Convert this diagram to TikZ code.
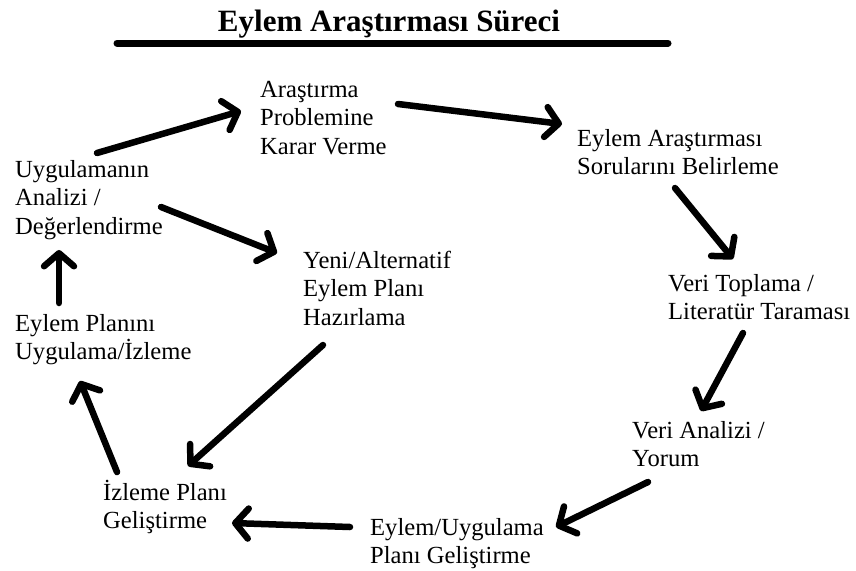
\documentclass[tikz,border=0pt]{standalone}
\usepackage{fontspec}
\setmainfont{Liberation Serif}
\usetikzlibrary{arrows.meta}
\tikzset{
  lbl/.style={anchor=north west, inner sep=0pt, align=left, text=black,
    font=\fontsize{24.6}{28.5}\selectfont},
  flow/.style={line width=6.5pt, line cap=round, line join=round,
    -{Straight Barb[round, length=13pt, width=30pt]}},
}
\newcommand{\fl}{\rule{0pt}{22pt}}
\begin{document}
\begin{tikzpicture}[x=1pt,y=-1pt]
\useasboundingbox (0,0) rectangle (856,570);
% title
\node[inner sep=0pt, anchor=base, font=\fontsize{31}{35}\selectfont\bfseries] (title) at (389,31) {Eylem Araştırması Süreci};
\coordinate (tl) at (117,43);
\coordinate (tr) at (668,43);
\draw[line width=7pt, line cap=round] (tl) -- (tr);
% labels (top = first baseline - 22)
\node[lbl] (n1) at (260,75) {\fl Araştırma\\Problemine\\Karar Verme};
\node[lbl] (n2) at (577,124) {\fl Eylem Araştırması\\Sorularını Belirleme};
\node[lbl] (n3) at (668,269) {\fl Veri Toplama /\\Literatür Taraması};
\node[lbl] (n4) at (632,416) {\fl Veri Analizi /\\Yorum};
\node[lbl] (n5) at (370,513) {\fl Eylem/Uygulama\\Planı Geliştirme};
\node[lbl] (n6) at (103,478) {\fl İzleme Planı\\Geliştirme};
\node[lbl] (n7) at (15,309) {\fl Eylem Planını\\Uygulama/İzleme};
\node[lbl] (n8) at (15,155) {\fl Uygulamanın\\Analizi /\\Değerlendirme};
\node[lbl] (n9) at (303,246) {\fl Yeni/Alternatif\\Eylem Planı\\Hazırlama};
% arrow end points
\coordinate (a1s) at (97,153);  \coordinate (a1e) at (241,111);
\coordinate (a2s) at (398,104); \coordinate (a2e) at (562,124);
\coordinate (a3s) at (675,188); \coordinate (a3e) at (733,259);
\coordinate (a4s) at (743,333); \coordinate (a4e) at (701,411);
\coordinate (a5s) at (648,482); \coordinate (a5e) at (556,527);
\coordinate (a6s) at (350,527); \coordinate (a6e) at (232,523);
\coordinate (a7s) at (117,472); \coordinate (a7e) at (80,381);
\coordinate (a8s) at (59,303);  \coordinate (a8e) at (59,250);
\coordinate (a9s) at (161,207); \coordinate (a9e) at (277,253);
\coordinate (a10s) at (323,345); \coordinate (a10e) at (188,466);
\draw[flow] (a1s) -- (a1e);
\draw[flow] (a2s) -- (a2e);
\draw[flow] (a3s) -- (a3e);
\draw[flow] (a4s) -- (a4e);
\draw[flow] (a5s) -- (a5e);
\draw[flow] (a6s) -- (a6e);
\draw[flow] (a7s) -- (a7e);
\draw[flow] (a8s) -- (a8e);
\draw[flow] (a9s) -- (a9e);
\draw[flow] (a10s) -- (a10e);
\end{tikzpicture}
\end{document}
